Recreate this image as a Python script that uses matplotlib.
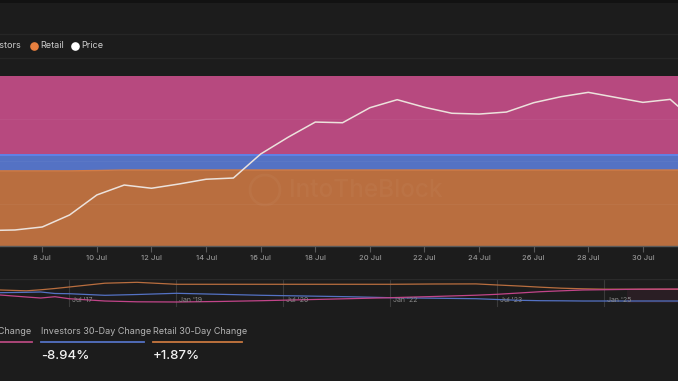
import numpy as np
import matplotlib
matplotlib.use("Agg")
import matplotlib.pyplot as plt
import matplotlib.dates as mdates
from matplotlib.lines import Line2D
from matplotlib.patches import Rectangle, Circle
from datetime import datetime, timedelta

plt.rcParams['font.family'] = ['Inter', 'DejaVu Sans']

# ---- data -------------------------------------------------------------
days = [datetime(2025, 7, 6) + timedelta(days=i) for i in range(27)]   # 6 Jul .. 1 Aug

retail = [44.2, 44.2, 44.2, 44.2, 44.4, 44.7, 44.7, 44.7, 44.7, 44.7, 44.7, 44.7, 44.7, 44.7,
          44.7, 44.7, 44.7, 44.7, 44.7, 44.7, 44.7, 44.7, 44.7, 44.7, 44.7, 44.7, 44.7]
investors = [9.3, 9.3, 9.3, 9.3, 9.1, 8.8, 8.8, 8.8, 8.8, 8.8, 8.8, 8.8, 8.8, 8.8,
             8.8, 8.8, 8.8, 8.8, 8.8, 8.8, 8.8, 8.8, 8.8, 8.8, 8.8, 8.8, 8.8]
whales = [100 - r - i for r, i in zip(retail, investors)]

price = [2555, 2560, 2587, 2695, 2875, 2964, 2935, 2973, 3016, 3027, 3243, 3393, 3530, 3524,
         3659, 3731, 3663, 3609, 3602, 3620, 3704, 3758, 3797, 3752, 3707, 3734, 3521]

# navigator (full history, fraction of year)
nav_years = [2016.53, 2016.9, 2017.1, 2017.3, 2017.5, 2018.0, 2018.45, 2019.0, 2019.6, 2020.2,
             2020.8, 2021.4, 2022.0, 2022.6, 2023.2, 2023.5, 2023.8, 2024.1, 2024.4, 2024.7,
             2025.0, 2025.5, 2026.03]
nav_retail = [43.4, 40.8, 44.0, 48.1, 52.8, 64.7, 67.5, 61.3, 61.3, 61.3, 61.3, 61.3, 61.3,
              62.2, 62.5, 59.1, 55.9, 52.2, 49.0, 47.1, 45.9, 45.6, 45.6]
nav_investors = [34.9, 36.1, 37.1, 32.4, 31.7, 26.7, 29.2, 33.0, 29.9, 26.7, 24.5, 22.3, 19.2,
                 17.6, 16.0, 13.5, 11.0, 9.8, 9.4, 8.8, 8.8, 8.8, 8.8]
nav_whales = [27.7, 21.4, 18.2, 22.3, 16.0, 8.8, 6.3, 5.7, 7.3, 9.8, 12.9, 16.0, 19.2, 22.9,
              27.0, 29.9, 33.9, 38.0, 40.8, 43.4, 44.3, 45.9, 46.5]
nav_ticks = [2017.5, 2019.0, 2020.5, 2022.0, 2023.5, 2025.0]
nav_labels = ["Jul '17", "Jan '19", "Jul '20", "Jan '22", "Jul '23", "Jan '25"]

stat_names = ["Whales 30-Day Change", "Investors 30-Day Change", "Retail 30-Day Change"]
stat_values = [None, "-8.94%", "+1.87%"]

# ---- style ------------------------------------------------------------
W, H = 678, 381
BG = '#1c1c1c'
C_WHALE = '#b7497f'
C_INV = '#5472c4'
C_RET = '#b96e3f'
TXT = '#cfcfcf'


def fx(px):
    return px / W


def fy(py):
    return 1 - py / H


fig = plt.figure(figsize=(W / 100, H / 100), dpi=100, facecolor=BG)

# header strips
fig.add_artist(Rectangle((0, fy(3)), 1, 3 / H, transform=fig.transFigure, color='#121212', lw=0))
for yy in (33.5, 57.5):
    fig.add_artist(Line2D([0, 1], [fy(yy), fy(yy)], transform=fig.transFigure, color='#262626', lw=1))

# legend row (left part is cut off in the original)
# (text right edge, dot x, label, colour)
leg = [(-42, "Whales", C_WHALE), (21, "Investors", C_INV)]
for xr, name, col in leg:
    fig.text(fx(xr), fy(46), name, color=TXT, fontsize=6.5, va='center', ha='right')
for xdot, name, col in [(34, "Retail", '#e8803f'), (75, "Price", '#ffffff')]:
    fig.add_artist(Line2D([fx(xdot)], [fy(46)], transform=fig.transFigure, marker='o',
                          markersize=5.2, color=col, lw=0))
    fig.text(fx(xdot + 6), fy(46), name, color=TXT, fontsize=6.5, va='center', ha='left')

# ---- main chart -------------------------------------------------------
ax = fig.add_axes([0, fy(246), 1, 170 / H])
ax.set_facecolor(BG)
ax.stackplot(days, retail, investors, whales, colors=[C_RET, C_INV, C_WHALE], lw=0)
top_ret = np.array(retail)
top_inv = top_ret + np.array(investors)
ax.plot(days, top_ret, color='#d27c46', lw=1)
ax.plot(days, top_inv, color='#5f82e8', lw=1.4)
for g in (25, 50, 75):
    ax.axhline(g, color='white', alpha=0.04, lw=0.8)
ax.set_ylim(0, 100)
x0 = mdates.date2num(datetime(2025, 7, 6)) + 0.451
ax.set_xlim(x0, x0 + 24.835)
ax.set_yticks([])
for s in ('top', 'left', 'right'):
    ax.spines[s].set_visible(False)
ax.spines['bottom'].set_color('#5a5a5a')
ax.spines['bottom'].set_linewidth(1)
ax.xaxis.set_major_locator(mdates.DayLocator(bymonthday=range(2, 32, 2)))
ax.xaxis.set_major_formatter(mdates.DateFormatter('%-d %b'))
ax.tick_params(axis='x', colors='#5a5a5a', labelcolor='#a8a8a8', labelsize=5.5,
               length=4.3, width=0.8, pad=2.5)

# watermark
fig.text(fx(289), fy(190), "IntoTheBlock", fontsize=17.5, color='white', alpha=0.035,
         ha='left', va='center', fontweight='medium')
fig.add_artist(Circle((265, H - 190), 15, transform=None, fill=False, ec='white', alpha=0.035, lw=2))

ax2 = ax.twinx()
ax2.plot(days, price, color='#ece2dc', lw=1.1)
ax2.set_ylim(2416, 3944)
ax2.axis('off')

# ---- navigator --------------------------------------------------------
nav = fig.add_axes([0, fy(309), 1, 30 / H])
nav.set_facecolor(BG)
nav.set_xlim(2016.53, 2026.03)
nav.set_ylim(-16.3, 77.9)
nav.fill_between([2025.31, 2026.03], 2.5, 45.5, color='#2a1e24', lw=0)
for t, lab in zip(nav_ticks, nav_labels):
    nav.axvline(t, ymin=0.1, ymax=0.97, color='#3a3a3a', lw=0.8)
    nav.text(t + 0.04, 0.3, lab, transform=nav.get_xaxis_transform(), fontsize=5,
             color='#8a8a8a', va='center', ha='left')
nav.axhline(77.9, color='#2a2a2a', lw=1)
nav.plot(nav_years, nav_retail, color=C_RET, lw=0.9)
nav.plot(nav_years, nav_investors, color=C_INV, lw=0.9)
nav.plot(nav_years, nav_whales, color='#c2458a', lw=0.9)
nav.axis('off')

# ---- 30 day change stats ----------------------------------------------
stat_x = [-65, 41, 153]
stat_w = [97, 103, 89]
stat_cols = [C_WHALE, C_INV, '#c8773f']
for name, val, xs, w, col in zip(stat_names, stat_values, stat_x, stat_w, stat_cols):
    if xs < 0:
        fig.text(fx(31), fy(331), name, fontsize=6.5, color='#b4b4b4', ha='right', va='center')
    else:
        fig.text(fx(xs), fy(331), name, fontsize=6.5, color='#b4b4b4', ha='left', va='center')
    fig.add_artist(Line2D([fx(xs), fx(xs + w)], [fy(342), fy(342)], transform=fig.transFigure,
                          color=col, lw=1.3))
    if val:
        fig.text(fx(xs), fy(356), val, fontsize=9.5, color='#f2f2f2', ha='left', va='center',
                 fontweight='medium')

plt.savefig('out.png', dpi=100, facecolor=BG)
